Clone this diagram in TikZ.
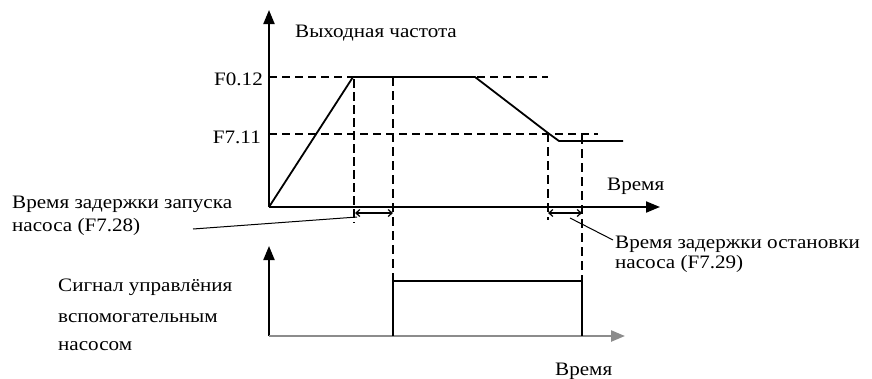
\documentclass[tikz,border=0pt]{standalone}
\usepackage{fontspec}
\setmainfont{Liberation Serif}[FakeStretch=1.11]
\usetikzlibrary{arrows.meta}
\tikzset{
  axis/.style={line width=2pt,-{Triangle[length=14pt,width=11pt]}},
  curve/.style={line width=1.8pt},
  lvl/.style={line width=1.7pt,dash pattern=on 8pt off 5pt},
  vthin/.style={line width=1.5pt,dash pattern=on 9pt off 5pt},
  vthick/.style={line width=2.8pt,dash pattern=on 9pt off 4pt},
  gap/.style={line width=1.2pt,{Straight Barb[length=4pt,width=7pt]}-{Straight Barb[length=4pt,width=7pt]}},
  lead/.style={line width=1pt},
  lbl/.style={inner sep=0pt,font=\fontsize{19}{22}\selectfont},
}
\begin{document}
\begin{tikzpicture}[x=1pt,y=-1pt]
\useasboundingbox (0,0) rectangle (872,378);
% ---- upper chart
\coordinate (O) at (269,207);
\draw[axis] (O) -- (269,10);
\draw[axis] (O) -- (660,207);
\node[lbl,anchor=base west] (fout) at (295,37) {Выходная частота};
\node[lbl,anchor=base east] (f012) at (263,85) {F0.12};
\node[lbl,anchor=base east] (f711) at (261,143) {F7.11};
\node[lbl,anchor=base west] (t1) at (607,190) {Время};
% levels
\draw[lvl] (269,77) -- (548,77);
\draw[lvl] (269,134) -- (598,134);
% frequency curve
\draw[curve,line join=round] (O) -- (353,77) -- (475,77) -- (548,133) -- (559,141) -- (623,141);
% vertical dashed
\draw[vthick] (354,79) -- (354,223);
\draw[vthin] (393,77) -- (393,280);
\draw[vthin] (548,133) -- (548,220);
\draw[vthin] (582,135) -- (582,281);
% delay arrows
\draw[gap] (355,213) -- (393,213);
\draw[gap] (548,213) -- (582,213);
% labels with leaders
\node[lbl,anchor=base west] (d1a) at (12,208) {Время задержки запуска};
\node[lbl,anchor=base west] (d1b) at (12,231) {насоса (F7.28)};
\node[lbl,anchor=base west] (d2a) at (615,248) {Время задержки остановки};
\node[lbl,anchor=base west] (d2b) at (615,268) {насоса (F7.29)};
\coordinate (l1) at (193,229);
\coordinate (l1e) at (357,217);
\draw[lead] (l1) -- (l1e);
\coordinate (l2) at (570,218);
\coordinate (l2e) at (613,240);
\draw[lead] (l2) -- (l2e);
% ---- lower chart
\coordinate (O2) at (269,336);
\draw[axis] (O2) -- (269,246);
\draw[axis,draw=black!45,line width=2.4pt] (O2) -- (625,336);
\draw[curve,line join=miter] (393,336) -- (393,281) -- (582,281) -- (582,336);
\node[lbl,anchor=base west] (s1) at (58,291) {Сигнал управлёния};
\node[lbl,anchor=base west] (s2) at (58,322) {вспомогательным};
\node[lbl,anchor=base west] (s3) at (58,350) {насосом};
\node[lbl,anchor=base west] (t2) at (555,375) {Время};
\end{tikzpicture}
\end{document}
